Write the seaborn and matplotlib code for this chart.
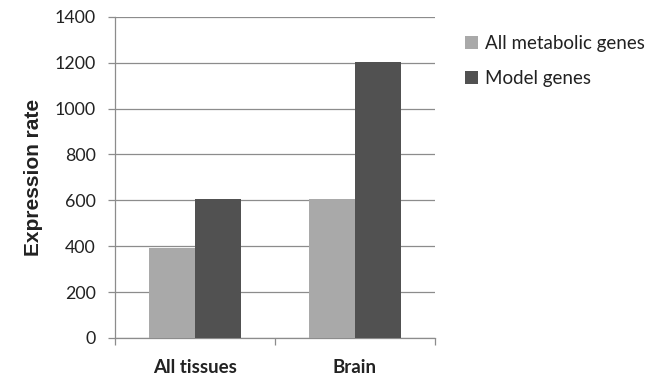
import matplotlib
matplotlib.use("Agg")
import matplotlib.pyplot as plt
from matplotlib.patches import Patch
import seaborn as sns
import pandas as pd

categories = ["All tissues", "Brain"]
series_names = ["All metabolic genes", "Model genes"]
all_metabolic = [390, 605]
model_genes = [605, 1205]
y_ticks = [0, 200, 400, 600, 800, 1000, 1200, 1400]

colors = ["#a9a9a9", "#515151"]

df = pd.DataFrame({
    "Tissue": categories * 2,
    "Series": [series_names[0]] * 2 + [series_names[1]] * 2,
    "Value": all_metabolic + model_genes,
})

sns.set_theme(style="white")
plt.rcParams["font.family"] = ["Lato", "DejaVu Sans"]

fig = plt.figure(figsize=(6.57, 3.84), dpi=100)
ax = fig.add_axes([0.175, 0.12, 0.487, 0.836])

sns.barplot(data=df, x="Tissue", y="Value", hue="Series", palette=colors,
            width=0.57, ax=ax, legend=False, saturation=1, zorder=3)
for p in ax.patches:
    p.set_edgecolor("none")

ax.set_ylim(0, 1400)
ax.set_xlim(-0.5, 1.5)
ax.set_yticks(y_ticks)
ax.set_yticklabels([str(v) for v in y_ticks], fontsize=12.8, color="#222222")
ax.yaxis.grid(True, color="#8c8c8c", linewidth=0.9, zorder=0)
ax.set_axisbelow(True)

for s in ["top", "right"]:
    ax.spines[s].set_visible(False)
for s in ["left", "bottom"]:
    ax.spines[s].set_color("#8c8c8c")
    ax.spines[s].set_linewidth(0.9)

ax.tick_params(axis="y", length=5, color="#8c8c8c", width=0.9, pad=9, left=True)
ax.set_xticks([0, 1])
ax.set_xticklabels(categories, fontsize=13.5, fontweight="bold", color="#222222")
ax.tick_params(axis="x", length=0, pad=15)
ax.set_xticks([-0.5, 0.5, 1.5], minor=True)
ax.tick_params(axis="x", which="minor", length=5, color="#8c8c8c", width=0.9, bottom=True)

ax.set_xlabel("")
ax.set_ylabel("Expression rate", fontsize=15, fontweight="bold", color="#222222",
              family=["Liberation Sans", "DejaVu Sans"], labelpad=8)

handles = [Patch(facecolor=c, edgecolor="none") for c in colors]
fig.legend(handles, series_names, loc="upper left", bbox_to_anchor=(0.682, 0.952),
           frameon=False, fontsize=13.5, handlelength=0.7, handleheight=0.7,
           handletextpad=0.35, labelspacing=0.95, labelcolor="#222222")

fig.savefig("out.png", dpi=100)
